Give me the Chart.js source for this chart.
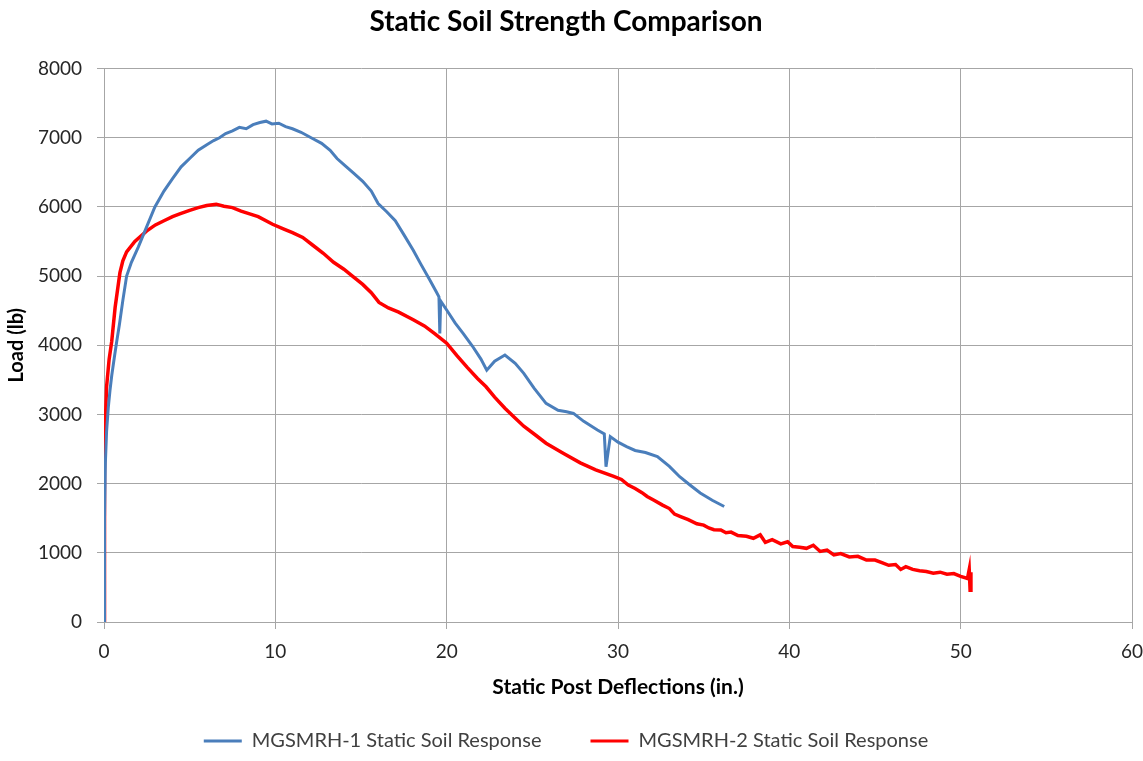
<!DOCTYPE html>
<html>
<head>
<meta charset="utf-8">
<script src="https://cdn.jsdelivr.net/npm/chart.js@4"></script>
<style>
  html, body { margin: 0; padding: 0; background: #fff; }
  #wrap { width: 1143px; height: 761px; }
</style>
</head>
<body>
<div id="wrap"><canvas id="soilChart" width="1143" height="761"></canvas></div>
<script>
// Static post deflection (in.) vs load (lb)
const defl1 = [0, 0.03, 0.08, 0.15, 0.25, 0.35, 0.45, 0.6, 0.74, 0.9, 1.1, 1.32, 1.6, 2.0, 2.5, 2.97, 3.5, 4.0, 4.5, 5.0,
  5.5, 6.0, 6.4, 6.74, 7.1, 7.5, 7.9, 8.3, 8.7, 9.1, 9.46, 9.8, 10.2, 10.6, 11.0, 11.5, 12.17, 12.7, 13.2, 13.6,
  14.1, 14.6, 15.1, 15.6, 16.0, 16.5, 17.0, 17.5, 18.05, 18.5, 19.0, 19.4, 19.55, 19.6, 19.65, 20.0, 20.5, 20.97,
  21.5, 22.0, 22.34, 22.8, 23.4, 24.0, 24.5, 25.1, 25.8, 26.5, 27.0, 27.4, 28.0, 28.8, 29.2, 29.3, 29.55, 30.0,
  30.5, 31.0, 31.6, 32.3, 33.0, 33.6, 34.2, 34.8, 35.5, 36.2];
const load1 = [0, 1500, 2300, 2750, 3100, 3350, 3560, 3820, 4050, 4300, 4650, 5000, 5200, 5420, 5720, 6000, 6230, 6410, 6580, 6700,
  6820, 6900, 6960, 7000, 7060, 7100, 7150, 7130, 7190, 7220, 7240, 7200, 7210, 7160, 7130, 7080, 6990, 6920, 6820, 6700,
  6590, 6480, 6370, 6230, 6050, 5930, 5800, 5600, 5375, 5170, 4950, 4770, 4700, 4170, 4640, 4510, 4320, 4170,
  3990, 3800, 3640, 3770, 3860, 3740, 3595, 3380, 3160, 3060, 3040, 3015, 2900, 2775, 2720, 2245, 2680, 2600,
  2535, 2480, 2450, 2390, 2250, 2100, 1980, 1865, 1760, 1670];

const defl2 = [0, 0.01, 0.03, 0.05, 0.08, 0.15, 0.3, 0.45, 0.65, 0.93, 1.1, 1.32, 1.8, 2.48, 3.0, 3.5, 4.0, 4.42, 5.0, 5.5,
  6.0, 6.55, 7.0, 7.5, 8.0, 8.5, 9.0, 9.84, 10.5, 11.0, 11.6, 12.17, 12.8, 13.4, 14.0, 14.5, 15.1, 15.6, 16.05, 16.6,
  17.2, 18.05, 18.7, 19.3, 20.0, 20.6, 21.2, 21.8, 22.3, 22.8, 23.4, 23.9, 24.5, 25.2, 25.8, 26.8, 27.8, 28.7, 29.75,
  30.2, 30.6, 31.0, 31.4, 31.7, 32.1, 32.6, 33.0, 33.3, 33.65, 34.1, 34.6, 35.0, 35.3, 35.6, 36.0, 36.3, 36.6, 37.0,
  37.5, 37.9, 38.3, 38.6, 39.0, 39.5, 39.9, 40.2, 40.6, 41.0, 41.4, 41.8, 42.2, 42.6, 43.0, 43.5, 44.0, 44.5, 45.0,
  45.4, 45.8, 46.2, 46.5, 46.8, 47.2, 47.6, 48.0, 48.4, 48.8, 49.2, 49.6, 50.0, 50.4, 50.5, 50.55, 50.6];
const load2 = [0, 600, 1400, 2200, 2900, 3400, 3800, 4055, 4550, 5050, 5220, 5350, 5500, 5650, 5740, 5800, 5860, 5900, 5950, 5990,
  6020, 6040, 6010, 5990, 5940, 5900, 5860, 5750, 5680, 5630, 5560, 5450, 5330, 5200, 5100, 5000, 4880, 4760, 4620, 4540,
  4480, 4370, 4280, 4170, 4030, 3850, 3680, 3520, 3400, 3250, 3090, 2970, 2830, 2700, 2585, 2440, 2300, 2200, 2105,
  2060, 1980, 1930, 1870, 1815, 1760, 1690, 1640, 1560, 1525, 1480, 1420, 1400, 1360, 1335, 1330, 1290, 1300, 1250,
  1240, 1210, 1260, 1150, 1190, 1130, 1160, 1090, 1080, 1065, 1110, 1020, 1040, 970, 990, 940, 950, 895, 896,
  860, 820, 830, 760, 800, 760, 740, 730, 705, 720, 690, 700, 660, 630, 760, 460, 720];

const seriesNames = ['MGSMRH-1 Static Soil Response', 'MGSMRH-2 Static Soil Response'];
const xTicks = [0, 10, 20, 30, 40, 50, 60];
const yTicks = [0, 1000, 2000, 3000, 4000, 5000, 6000, 7000, 8000];

function toPoints(xs, ys) {
    return xs.map((x, i) => ({ x: x, y: ys[i] }));
}

const fontFamily = 'Lato, "Liberation Sans", sans-serif';
const gridColor = '#a6a6a6';
const tickColor = '#262626';

const ctx = document.getElementById('soilChart').getContext('2d');
const soilChart = new Chart(ctx, {
    type: 'line',
    data: {
        datasets: [{
            label: seriesNames[0],
            data: toPoints(defl1, load1),
            borderColor: '#4a7ebb',
            backgroundColor: '#4a7ebb',
            borderWidth: 3,
            pointRadius: 0,
            tension: 0
        }, {
            label: seriesNames[1],
            data: toPoints(defl2, load2),
            borderColor: '#ff0000',
            backgroundColor: '#ff0000',
            borderWidth: 3.5,
            pointRadius: 0,
            tension: 0
        }]
    },
    options: {
        responsive: false,
        animation: false,
        layout: { padding: { left: 0, right: 11, top: 0, bottom: 0 } },
        scales: {
            x: {
                type: 'linear',
                min: 0,
                max: 60,
                afterBuildTicks: function(scale) {
                    scale.ticks = xTicks.map(v => ({ value: v }));
                },
                afterFit: function(scale) {
                    scale.height = 60;
                    scale.paddingRight = 0;
                },
                grid: { color: gridColor, lineWidth: 1, tickLength: 7 },
                border: { color: gridColor },
                ticks: {
                    color: tickColor,
                    font: { family: fontFamily, size: 19 },
                    padding: 11,
                    maxRotation: 0,
                    callback: value => String(value)
                },
                title: {
                    display: true,
                    text: 'Static Post Deflections (in.)',
                    color: '#000',
                    font: { family: fontFamily, size: 21, weight: 'bold' },
                    padding: { top: 0, bottom: -18 }
                }
            },
            y: {
                min: 0,
                max: 8000,
                afterBuildTicks: function(scale) {
                    scale.ticks = yTicks.map(v => ({ value: v }));
                },
                afterFit: function(scale) { scale.width = 104; },
                grid: { color: gridColor, lineWidth: 1, tickLength: 7 },
                border: { color: gridColor },
                ticks: {
                    color: tickColor,
                    font: { family: fontFamily, size: 19 },
                    padding: 15,
                    callback: value => String(value)
                },
                title: {
                    display: true,
                    text: 'Load (lb)',
                    color: '#000',
                    font: { family: fontFamily, size: 20, weight: 'bold' },
                    padding: { top: 5, bottom: 0 }
                }
            }
        },
        plugins: {
            title: {
                display: true,
                text: 'Static Soil Strength Comparison',
                color: '#000',
                font: { family: fontFamily, size: 28, weight: 'bold' },
                padding: { top: 5, bottom: 30 }
            },
            legend: {
                position: 'bottom',
                labels: {
                    color: '#404040',
                    font: { family: fontFamily, size: 20 },
                    boxWidth: 38,
                    boxHeight: 3,
                    padding: 49,
                    generateLabels: function(chart) {
                        return chart.data.datasets.map((ds, i) => ({
                            text: ds.label,
                            fillStyle: ds.borderColor,
                            strokeStyle: ds.borderColor,
                            lineWidth: 0,
                            datasetIndex: i,
                            fontColor: '#404040'
                        }));
                    }
                }
            },
            tooltip: { enabled: false }
        }
    }
});
</script>
</body>
</html>
